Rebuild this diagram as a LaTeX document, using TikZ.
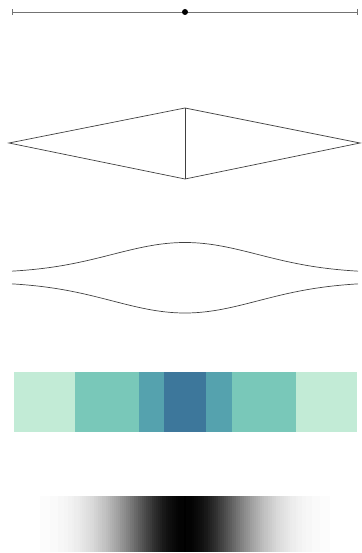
\documentclass[tikz,border=0pt]{standalone}
\usepackage{xcolor}
\usepackage{tikz}
\usetikzlibrary{arrows.meta}

\definecolor{binlight}{HTML}{C2EBD6}
\definecolor{binmid}{HTML}{79C8B9}
\definecolor{bindeep}{HTML}{55A2AE}
\definecolor{bindark}{HTML}{3D779B}

\begin{document}
\begin{tikzpicture}[x=1pt,y=-1pt]
\useasboundingbox (0,0) rectangle (361,553);
% interval with centre point
\draw[black!55,line width=0.9pt,{|[width=6pt]}-{|[width=6pt]}] (12,12) -- (358,12);
\fill[black] (185,12) circle (3pt);
% diamond
\draw[black!75,line width=0.7pt] (9,143) -- (185,108) -- (360,143) -- (185,179) -- cycle;
\draw[black!75,line width=0.7pt] (185,108) -- (185,179);
% gaussian envelope
\draw[black!75,line width=0.7pt,smooth,samples=80,domain=12:358] plot (\x,{273-30.5*exp(-0.5*((\x-185)/73)^2)});
\draw[black!75,line width=0.7pt,smooth,samples=80,domain=12:358] plot (\x,{282+31*exp(-0.5*((\x-185)/73)^2)});
% binned bar
\fill[binlight] (14,372) rectangle (75,432);
\fill[binmid] (75,372) rectangle (139,432);
\fill[bindeep] (139,372) rectangle (164,432);
\fill[bindark] (164,372) rectangle (206,432);
\fill[bindeep] (206,372) rectangle (232,432);
\fill[binmid] (232,372) rectangle (296,432);
\fill[binlight] (296,372) rectangle (357,432);
% smooth gray bar
\foreach \i in {14,16,...,356} {
  \pgfmathtruncatemacro{\pct}{100*exp(-0.5*((\i+1-185)/48)^2)}
  \fill[black!\pct] (\i,496) rectangle (\i+2.4,552);
}
\end{tikzpicture}
\end{document}
